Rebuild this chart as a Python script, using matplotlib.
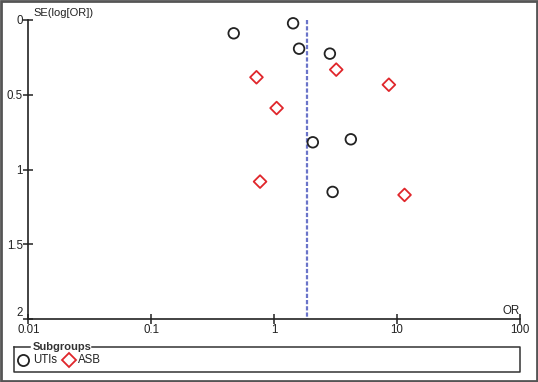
import matplotlib
matplotlib.use("Agg")
import matplotlib.pyplot as plt
from matplotlib.patches import Rectangle
from matplotlib.lines import Line2D

plt.rcParams['font.family'] = ['Liberation Sans', 'DejaVu Sans']

# Data
uti_or = [0.47, 1.43, 1.60, 2.85, 2.07, 4.22, 3.00]
uti_se = [0.089, 0.022, 0.192, 0.225, 0.818, 0.798, 1.150]
asb_or = [0.72, 3.21, 8.61, 1.05, 0.77, 11.55]
asb_se = [0.383, 0.332, 0.433, 0.589, 1.081, 1.170]
pooled_or = 1.86
x_ticks = [0.01, 0.1, 1, 10, 100]
x_labels = ["0.01", "0.1", "1", "10", "100"]
y_ticks = [0, 0.5, 1, 1.5, 2]
y_labels = ["0", "0.5", "1", "1.5", "2"]

W, H = 538, 382
fig = plt.figure(figsize=(W / 100, H / 100), dpi=100)

def fx(px):
    return px / W

def fy(py):
    return 1 - py / H

ax = fig.add_axes([fx(28.3), fy(319), fx(519.7) - fx(28.3), fy(20) - fy(319)])
ax.set_xscale('log')
ax.set_xlim(0.01, 100)
ax.set_ylim(2, 0)

red = '#e0262b'
ax.vlines(pooled_or, 0, 2, colors='#6a74c9', linestyles=(0, (1.9, 0.9)), lw=1.6, zorder=1)
ax.scatter(uti_or, uti_se, marker='o', s=58, facecolors='none', edgecolors='#222222',
           linewidths=1.3, zorder=3, clip_on=False)
ax.scatter(asb_or, asb_se, marker='D', s=42, facecolors='none', edgecolors=red,
           linewidths=1.3, zorder=3, clip_on=False)

for s in ['top', 'right']:
    ax.spines[s].set_visible(False)
for s in ['left', 'bottom']:
    ax.spines[s].set_linewidth(1.2)
    ax.spines[s].set_color('#222222')

ax.set_xticks(x_ticks)
ax.set_xticklabels(x_labels)
ax.xaxis.set_minor_locator(matplotlib.ticker.NullLocator())
ax.set_yticks(y_ticks)
ax.set_yticklabels(y_labels)
ax.tick_params(axis='both', direction='inout', length=7, width=1.1, color='#222222',
               labelsize=8.3, labelcolor='#222222')
ax.tick_params(axis='x', pad=0)
ax.tick_params(axis='y', pad=0.5)
ax.get_yticklabels()[-1].set_verticalalignment('bottom')
ax.set_facecolor('none')

fig.text(fx(33), fy(13), "SE(log[OR])", fontsize=8, color='#222222', va='center', ha='left')
fig.text(fx(520), fy(311), "OR", fontsize=8.3, color='#222222', va='center', ha='right')

# Legend box
lx0, lx1, ly0, ly1 = 14, 520, 347.3, 371.7
fig.add_artist(Line2D([fx(lx0), fx(lx0), fx(lx1), fx(lx1), fx(92)],
                      [fy(ly0), fy(ly1), fy(ly1), fy(ly0), fy(ly0)],
                      transform=fig.transFigure, color='#333333', lw=1.1))
fig.add_artist(Line2D([fx(lx0), fx(30)], [fy(ly0), fy(ly0)],
                      transform=fig.transFigure, color='#333333', lw=1.1))
fig.text(fx(33), fy(346.5), "Subgroups", fontsize=8, fontweight='bold', color='#333333',
         va='center', ha='left')
fig.add_artist(Line2D([fx(23)], [fy(360)], marker='o', markersize=8, markerfacecolor='none',
                      markeredgecolor='#222222', markeredgewidth=1.3, transform=fig.transFigure))
fig.text(fx(33), fy(360), "UTIs", fontsize=8.3, color='#222222', va='center', ha='left')
fig.add_artist(Line2D([fx(69)], [fy(360)], marker='D', markersize=7.5, markerfacecolor='none',
                      markeredgecolor=red, markeredgewidth=1.3, transform=fig.transFigure))
fig.text(fx(78), fy(360), "ASB", fontsize=8.3, color='#222222', va='center', ha='left')

# Outer frame
fig.add_artist(Rectangle((0.001, 0.002), 0.997, 0.996, transform=fig.transFigure,
                         fill=False, edgecolor='#555555', lw=2))

fig.savefig("out.png", dpi=100)
